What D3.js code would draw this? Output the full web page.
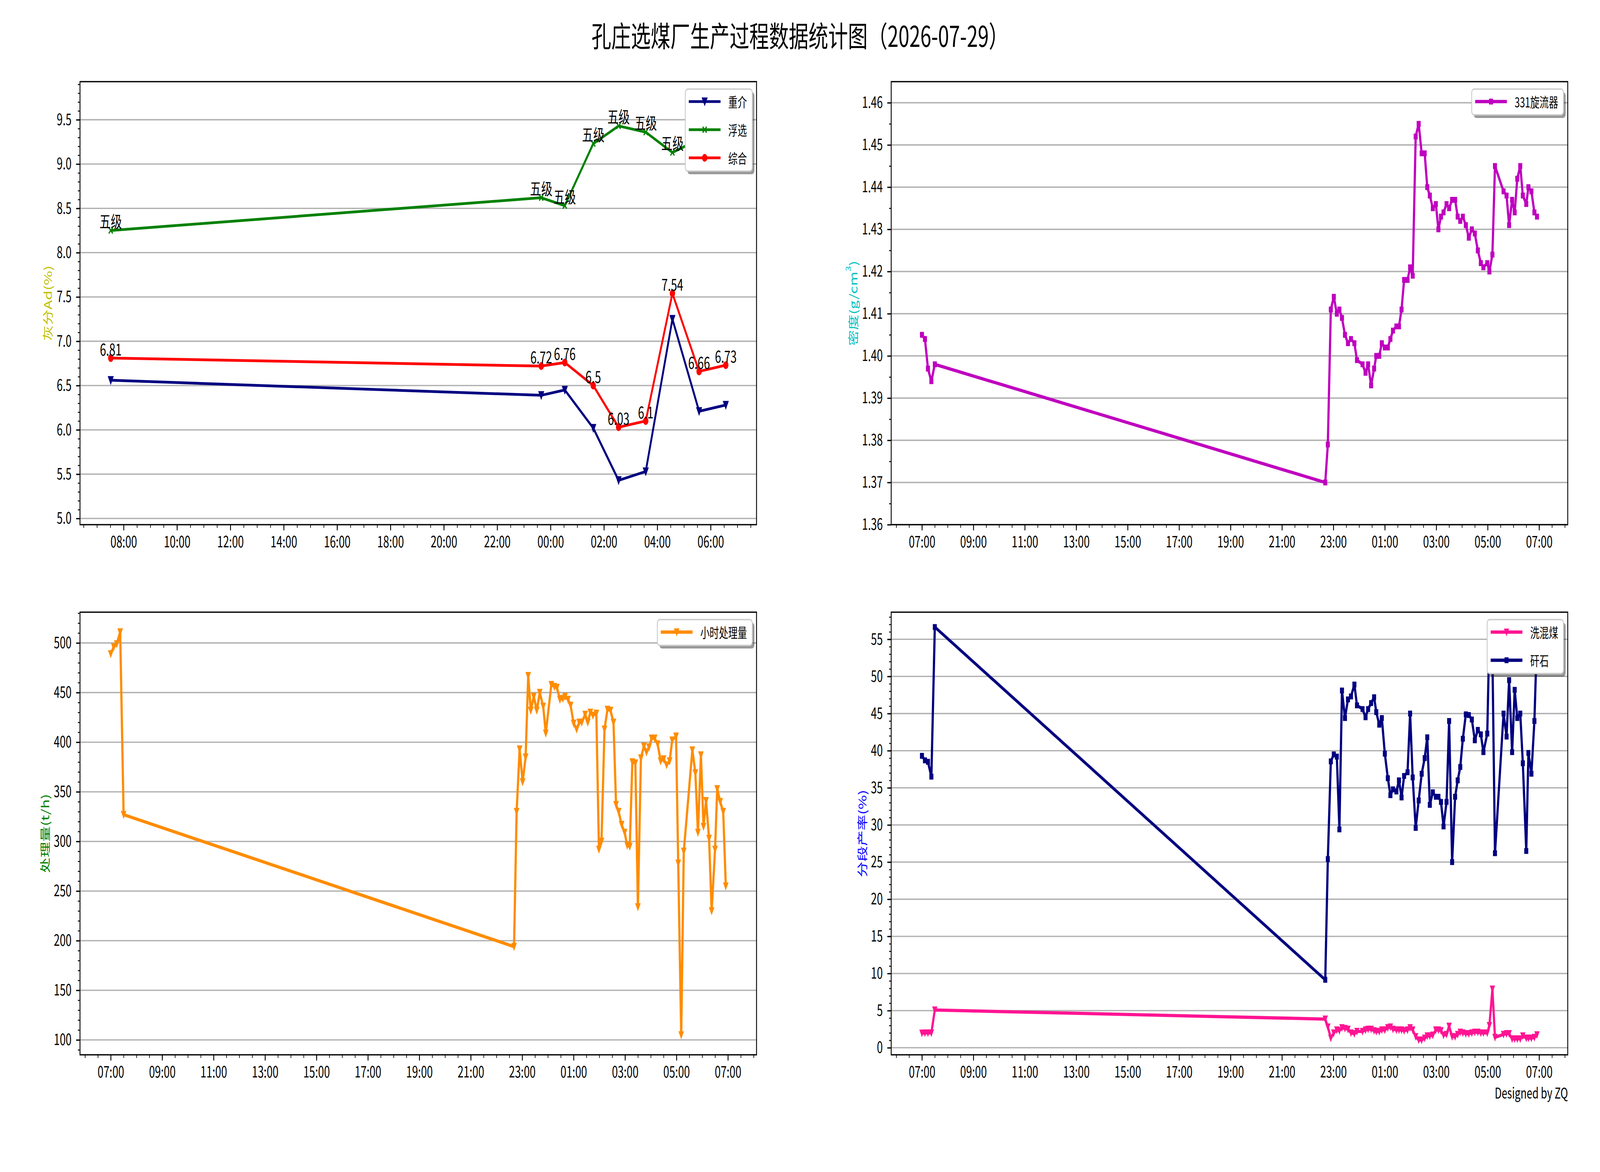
<!DOCTYPE html>
<html>
<head>
<meta charset="utf-8">
<script src="https://cdn.jsdelivr.net/npm/d3@7"></script>
<style>
	html, body { margin: 0; padding: 0; background: #fff; overflow: hidden; }
	#main-svg { display: block; width: 100vw; height: 100vh; }
	svg text { font-family: "Noto Sans CJK SC", "Noto Sans", sans-serif; }
</style>
</head>
<body>
<svg id="main-svg" viewBox="0 0 6000 3000" preserveAspectRatio="none"></svg>
<script>
// ---- 灰分 (top left) ----
var ashTimes  = ['07:31', '23:39', '00:32', '01:36', '02:33', '03:34', '04:34', '05:34', '06:34'];
var ashHeavy  = [6.56, 6.39, 6.45, 6.02, 5.43, 5.53, 7.25, 6.21, 6.28];
var ashFloat  = [8.25, 8.62, 8.53, 9.23, 9.43, 9.36, 9.13, 9.28, 9.30];
var ashTotal  = [6.81, 6.72, 6.76, 6.5, 6.03, 6.1, 7.54, 6.66, 6.73];
var floatGrade = ['五级', '五级', '五级', '五级', '五级', '五级', '五级', '五级', '五级'];
var ashTicks  = [5.0, 5.5, 6.0, 6.5, 7.0, 7.5, 8.0, 8.5, 9.0, 9.5];

// ---- 生产过程 (shared time stamps) ----
var procTimes = ['07:00', '07:07', '07:14', '07:22', '07:30',
	'22:41', '22:47', '22:54', '23:01', '23:08', '23:14', '23:20', '23:27', '23:34', '23:41',
	'23:49', '23:55', '00:08', '00:15', '00:21', '00:28', '00:35', '00:40', '00:47', '00:53',
	'01:00', '01:07', '01:13', '01:19', '01:27', '01:33', '01:39', '01:45', '01:53', '01:59',
	'02:05', '02:12', '02:19', '02:26', '02:33', '02:39', '02:45', '02:52', '02:59', '03:05',
	'03:11', '03:17', '03:24', '03:30', '03:37', '03:44', '03:50', '03:56', '04:02', '04:09',
	'04:16', '04:23', '04:30', '04:37', '04:44', '04:50', '04:59', '05:04', '05:11', '05:17',
	'05:37', '05:44', '05:50', '05:57', '06:03', '06:09', '06:16', '06:22', '06:30', '06:35',
	'06:42', '06:49', '06:55'];

var density = [1.405, 1.404, 1.397, 1.394, 1.398,
	1.370, 1.379, 1.411, 1.414, 1.410, 1.411, 1.409, 1.405, 1.403, 1.404,
	1.403, 1.399, 1.398, 1.396, 1.398, 1.393, 1.397, 1.400, 1.400, 1.403,
	1.402, 1.402, 1.404, 1.406, 1.407, 1.407, 1.411, 1.418, 1.418, 1.421,
	1.419, 1.452, 1.455, 1.448, 1.448, 1.440, 1.438, 1.435, 1.436, 1.430,
	1.433, 1.434, 1.436, 1.435, 1.437, 1.437, 1.433, 1.432, 1.433, 1.431,
	1.428, 1.430, 1.429, 1.425, 1.422, 1.421, 1.422, 1.420, 1.424, 1.445,
	1.439, 1.438, 1.431, 1.437, 1.434, 1.442, 1.445, 1.438, 1.436, 1.440,
	1.439, 1.434, 1.433];
var densityTicks = [1.36, 1.37, 1.38, 1.39, 1.40, 1.41, 1.42, 1.43, 1.44, 1.45, 1.46];

var hourly = [489, 496, 499, 511, 327,
	194, 330, 393, 360, 385, 467, 432, 446, 432, 450,
	436, 409, 458, 456, 455, 443, 444, 446, 443, 437,
	419, 413, 420, 420, 428, 420, 430, 427, 429, 292,
	300, 413, 433, 432, 420, 337, 330, 317, 309, 296,
	295, 380, 379, 234, 384, 396, 390, 395, 404, 404,
	398, 381, 383, 377, 381, 402, 406, 278, 105, 290,
	392, 369, 309, 387, 315, 341, 303, 230, 292, 353,
	340, 330, 255];
var hourlyTicks = [100, 150, 200, 250, 300, 350, 400, 450, 500];

var mixedCoal = [1.97, 2.0, 2.0, 2.0, 5.08,
	3.86, 2.8, 1.3, 2.0, 2.4, 2.3, 2.7, 2.6, 2.5, 2.0,
	1.9, 2.2, 2.2, 2.4, 2.5, 2.5, 2.3, 2.2, 2.2, 2.4,
	2.4, 2.7, 2.8, 2.5, 2.4, 2.4, 2.4, 2.3, 2.4, 2.7,
	2.4, 1.5, 1.05, 1.05, 1.3, 1.6, 1.6, 1.7, 2.4, 2.4,
	2.3, 1.7, 1.8, 2.9, 1.5, 1.5, 1.8, 2.1, 2.0, 1.9,
	1.9, 2.0, 2.1, 2.1, 2.0, 2.0, 2.0, 3.0, 7.9, 1.4,
	1.8, 1.9, 1.9, 1.2, 1.2, 1.2, 1.2, 1.6, 1.3, 1.3,
	1.3, 1.4, 1.75];
var gangue = [39.3, 38.7, 38.5, 36.5, 56.65,
	9.15, 25.4, 38.55, 39.5, 39.2, 29.4, 48.1, 44.4, 46.9, 47.3,
	48.9, 46.1, 45.6, 44.5, 45.6, 46.4, 47.2, 45.2, 43.5, 44.4,
	39.6, 36.3, 34.0, 34.8, 34.5, 36.0, 33.7, 36.6, 37.1, 45.0,
	36.4, 29.6, 33.3, 36.9, 39.0, 41.8, 32.7, 34.4, 33.8, 33.8,
	33.1, 29.8, 33.1, 44.0, 25.0, 33.8, 36.0, 37.8, 41.6, 44.9,
	44.8, 44.2, 41.4, 42.8, 42.2, 39.8, 42.3, 56.0, 53.0, 26.2,
	45.0, 41.9, 49.5, 39.8, 48.2, 44.4, 45.0, 38.3, 26.5, 39.7,
	36.9, 44.0, 55.5];
var yieldTicks = [0, 5, 10, 15, 20, 25, 30, 35, 40, 45, 50, 55];

var FONT = '"Noto Sans CJK SC", "Noto Sans", sans-serif';
var svg = d3.select('#main-svg');
var timeFmt = d3.timeFormat('%H:%M');

svg.append('rect').attr('width', 6000).attr('height', 3000).attr('fill', '#fff');

function parseTime(s) {
	var hm = s.split(':').map(Number);
	return new Date(2026, 6, hm[0] < 7 ? 29 : 28, hm[0], hm[1]);
}

function padTime(times) {
	var ext = d3.extent(times);
	var span = ext[1] - ext[0];
	return [new Date(+ext[0] - span * 0.05), new Date(+ext[1] + span * 0.05)];
}

function markerPath(type, s) {
	var h = s / 2;
	if (type === 'v') return `M${-h},${-h}L${h},${-h}L0,${h}Z`;
	if (type === 's') return `M${-h},${-h}H${h}V${h}H${-h}Z`;
	if (type === 'x') return `M${-h},${-h}L${h},${h}M${h},${-h}L${-h},${h}`;
	return d3.arc()({innerRadius: 0, outerRadius: h, startAngle: 0, endAngle: 2 * Math.PI});
}

function drawMarker(sel, s) {
	sel.attr('d', markerPath(s.marker, s.size))
		.attr('fill', s.marker === 'x' ? 'none' : s.color)
		.attr('stroke', s.color)
		.attr('stroke-width', s.marker === 'x' ? 4 : 3);
}

var clipCount = 0;

function drawPanel(p) {
	var times = p.times.map(parseTime);
	var allVals = [].concat.apply([], p.series.map(s => s.values));
	var x = d3.scaleTime().domain(padTime(times)).range([p.left, p.left + p.width]);
	var y = d3.scaleLinear()
		.domain([d3.min(allVals) - p.yPad, d3.max(allVals) + p.yPad])
		.range([p.top + p.height, p.top]);
	var g = svg.append('g');

	// grid
	g.append('g').selectAll('line')
		.data(p.yTicks)
		.enter().append('line')
		.attr('x1', p.left).attr('x2', p.left + p.width)
		.attr('y1', d => y(d)).attr('y2', d => y(d))
		.attr('stroke', '#b0b0b0')
		.attr('stroke-width', 3.3);

	var clipId = 'clip' + (clipCount++);
	svg.append('clipPath').attr('id', clipId)
		.append('rect')
		.attr('x', p.left).attr('y', p.top)
		.attr('width', p.width).attr('height', p.height);

	var plot = g.append('g').attr('clip-path', `url(#${clipId})`);
	p.series.forEach(s => {
		var pts = times.map((t, i) => ({t: t, v: s.values[i]}));
		plot.append('path')
			.datum(pts)
			.attr('d', d3.line().x(d => x(d.t)).y(d => y(d.v)))
			.attr('fill', 'none')
			.attr('stroke', s.color)
			.attr('stroke-width', p.lineWidth)
			.attr('stroke-linejoin', 'round');
		plot.append('g').selectAll('path')
			.data(pts)
			.enter().append('path')
			.attr('transform', d => `translate(${x(d.t)},${y(d.v)})`)
			.call(drawMarker, s);
	});

	// value labels
	(p.labels || []).forEach(l => {
		plot.append('g').selectAll('text')
			.data(l.text)
			.enter().append('text')
			.attr('x', (d, i) => x(times[i]))
			.attr('y', (d, i) => y(l.values[i]) - 7)
			.attr('text-anchor', 'middle')
			.attr('font-size', 42)
			.attr('fill', '#000')
			.text(d => d);
	});

	// axes
	var d0 = x.domain()[0], d1 = x.domain()[1];
	var majorX = p.xInterval.range(d0, d1);
	var minorX = d3.timeMinute.every(30).range(d0, d1);
	var yr = y.domain();
	var minorY = d3.range(Math.ceil(yr[0] / p.yMinor) * p.yMinor, yr[1], p.yMinor);

	var xg = g.append('g')
		.attr('transform', `translate(0,${p.top + p.height})`)
		.call(d3.axisBottom(x).tickValues(minorX).tickFormat('').tickSize(8).tickSizeOuter(0));
	xg.select('.domain').remove();
	xg.selectAll('line').attr('stroke-width', 2.5);
	var xg2 = g.append('g')
		.attr('transform', `translate(0,${p.top + p.height})`)
		.call(d3.axisBottom(x).tickValues(majorX).tickFormat(timeFmt)
			.tickSize(14.6).tickPadding(14.6).tickSizeOuter(0))
		.attr('font-size', 40).attr('font-family', FONT);
	xg2.select('.domain').remove();
	xg2.selectAll('line').attr('stroke-width', 3.3);

	var yg = g.append('g')
		.attr('transform', `translate(${p.left},0)`)
		.call(d3.axisLeft(y).tickValues(minorY).tickFormat('').tickSize(8).tickSizeOuter(0));
	yg.select('.domain').remove();
	yg.selectAll('line').attr('stroke-width', 2.5);
	var yg2 = g.append('g')
		.attr('transform', `translate(${p.left},0)`)
		.call(d3.axisLeft(y).tickValues(p.yTicks).tickFormat(p.yFormat)
			.tickSize(14.6).tickPadding(17).tickSizeOuter(0))
		.attr('font-size', 40).attr('font-family', FONT);
	yg2.select('.domain').remove();
	yg2.selectAll('line').attr('stroke-width', 3.3);

	g.append('rect')
		.attr('x', p.left).attr('y', p.top)
		.attr('width', p.width).attr('height', p.height)
		.attr('fill', 'none')
		.attr('stroke', '#000')
		.attr('stroke-width', 3.3);

	// y label, left of the tick labels
	var bb = yg2.node().getBBox();
	var lx = p.left + bb.x - 35, ly = p.top + p.height / 2;
	var yl = g.append('text')
		.attr('transform', `translate(${lx},${ly}) rotate(-90)`)
		.attr('text-anchor', 'middle')
		.attr('dominant-baseline', 'central')
		.attr('font-size', 40)
		.attr('fill', p.ylabelColor);
	p.ylabel.forEach(part => {
		var t = yl.append('tspan').text(part.t);
		if (part.sup) t.attr('baseline-shift', 'super').attr('font-size', 26);
	});

	drawLegend(p);
}

function drawLegend(p) {
	var rowH = 72, hLen = 119;
	var lg = svg.append('g');
	var probe = lg.append('text').attr('font-size', 35);
	var maxW = d3.max(p.series, s => {
		probe.text(s.name);
		return probe.node().getComputedTextLength();
	});
	probe.remove();
	var bw = 13 + hLen + 29 + maxW + 20;
	var bh = 66 + (p.series.length - 1) * rowH;
	var bx = p.left + p.width - 16 - bw;
	var by = p.top + 19;

	lg.append('rect')
		.attr('x', bx + 8).attr('y', by + 8)
		.attr('width', bw).attr('height', bh)
		.attr('rx', 9)
		.attr('fill', '#000').attr('fill-opacity', 0.4);
	lg.append('rect')
		.attr('x', bx).attr('y', by)
		.attr('width', bw).attr('height', bh)
		.attr('rx', 9)
		.attr('fill', '#fff')
		.attr('stroke', '#cccccc')
		.attr('stroke-width', 3.3);

	p.series.forEach((s, i) => {
		var ry = by + 32 + i * rowH;
		var hx = bx + 13;
		lg.append('line')
			.attr('x1', hx).attr('x2', hx + hLen)
			.attr('y1', ry).attr('y2', ry)
			.attr('stroke', s.color)
			.attr('stroke-width', p.lineWidth);
		lg.append('path')
			.attr('transform', `translate(${hx + hLen / 2},${ry})`)
			.call(drawMarker, s);
		lg.append('text')
			.attr('x', hx + hLen + 29).attr('y', ry)
			.attr('dominant-baseline', 'central')
			.attr('font-size', 35)
			.attr('fill', '#000')
			.text(s.name);
	});
}

var oddHours = d3.timeHour.filter(d => d.getHours() % 2 === 1);
var evenHours = d3.timeHour.every(2);

drawPanel({
	left: 300, top: 209, width: 2537, height: 1134,
	times: ashTimes, xInterval: evenHours,
	yTicks: ashTicks, yMinor: 0.1, yPad: 0.5, yFormat: d3.format('.1f'),
	lineWidth: 7,
	ylabel: [{t: '灰分Ad(%)'}], ylabelColor: '#bfbf00',
	series: [
		{name: '重介', values: ashHeavy, color: '#000080', marker: 'v', size: 18},
		{name: '浮选', values: ashFloat, color: '#008000', marker: 'x', size: 15},
		{name: '综合', values: ashTotal, color: '#ff0000', marker: 'o', size: 17}
	],
	labels: [
		{text: floatGrade, values: ashFloat},
		{text: ashTotal.map(String), values: ashTotal}
	]
});

drawPanel({
	left: 3342, top: 209, width: 2537, height: 1134,
	times: procTimes, xInterval: oddHours,
	yTicks: densityTicks, yMinor: 0.005, yPad: 0.01, yFormat: d3.format('.2f'),
	lineWidth: 8.3,
	ylabel: [{t: '密度(g/cm'}, {t: '3', sup: true}, {t: ')'}], ylabelColor: '#00bfbf',
	series: [
		{name: '331旋流器', values: density, color: '#bf00bf', marker: 's', size: 12}
	]
});

drawPanel({
	left: 300, top: 1567, width: 2537, height: 1133,
	times: procTimes, xInterval: oddHours,
	yTicks: hourlyTicks, yMinor: 10, yPad: 20, yFormat: d3.format('d'),
	lineWidth: 8.3,
	ylabel: [{t: '处理量(t/h)'}], ylabelColor: '#008000',
	series: [
		{name: '小时处理量', values: hourly, color: '#ff8c00', marker: 'v', size: 16}
	]
});

drawPanel({
	left: 3342, top: 1567, width: 2537, height: 1133,
	times: procTimes, xInterval: oddHours,
	yTicks: yieldTicks, yMinor: 1, yPad: 2, yFormat: d3.format('d'),
	lineWidth: 8.3,
	ylabel: [{t: '分段产率(%)'}], ylabelColor: '#0000ff',
	series: [
		{name: '洗混煤', values: mixedCoal, color: '#ff1493', marker: 'v', size: 15},
		{name: '矸石', values: gangue, color: '#000080', marker: 's', size: 12}
	]
});

svg.append('text')
	.attr('x', 3000).attr('y', 120)
	.attr('text-anchor', 'middle')
	.attr('font-size', 74)
	.attr('fill', '#000')
	.text('孔庄选煤厂生产过程数据统计图（2026-07-29）');

svg.append('text')
	.attr('x', 5880).attr('y', 2812)
	.attr('text-anchor', 'end')
	.attr('font-size', 38)
	.attr('fill', '#000')
	.text('Designed by ZQ');
</script>
</body>
</html>
